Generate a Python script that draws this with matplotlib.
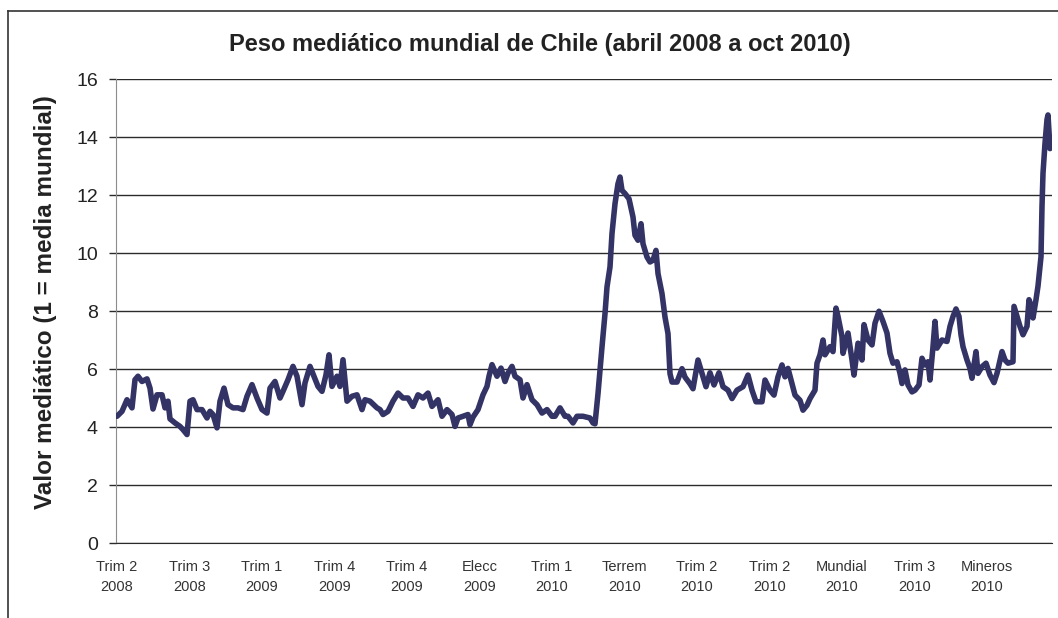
"""Peso mediático mundial de Chile, abril 2008 a oct 2010 (línea diaria)."""

import matplotlib.pyplot as plt
from matplotlib.lines import Line2D
import numpy as np

plt.rcParams["font.family"] = ["Liberation Sans", "DejaVu Sans"]

titulo = "Peso mediático mundial de Chile (abril 2008 a oct 2010)"
titulo_y = "Valor mediático (1 = media mundial)"

periodos = ["Trim 2", "Trim 3", "Trim 1", "Trim 4", "Trim 4", "Elecc", "Trim 1",
            "Terrem", "Trim 2", "Trim 2", "Mundial", "Trim 3", "Mineros"]
anios = ["2008", "2008", "2009", "2009", "2009", "2009", "2010",
         "2010", "2010", "2010", "2010", "2010", "2010"]
dias_por_etiqueta = 72.5

# días desde el inicio de la serie y valor
dias = [0, 5, 10, 15, 18, 21, 25, 30, 33, 36, 40, 45, 48, 51, 53, 58, 63, 66, 70,
        73, 76, 80, 85, 90, 93, 96, 100, 103, 107, 111, 116, 121, 126, 130, 135,
        140, 145, 150, 153, 158, 163, 166, 171, 176, 180, 185, 188, 193, 197, 201,
        205, 209, 212, 215, 220, 223, 226, 230, 235,
        240, 245, 248, 253, 260, 263, 266, 271, 276, 281, 286, 291, 296, 301, 306,
        311, 315, 321, 325, 330, 335, 338, 341, 346, 351, 353, 356, 361, 366, 370,
        372, 375, 380, 384, 388, 391, 395, 398, 403, 406, 410, 415, 420, 425, 430,
        435, 438, 443, 448, 451, 456, 460, 466, 473, 476,
        478, 481, 485, 488, 490, 493, 495, 498, 501, 503, 505, 508, 512, 516, 518,
        521, 524, 526, 530, 533, 536, 539, 541, 545, 548, 551, 553, 555, 560, 565,
        568, 573, 576,
        581, 585, 589, 593, 597, 602, 606, 611, 615, 620, 626, 631, 635, 639, 645,
        648, 653, 657, 661, 665, 668, 671, 675, 678, 683, 686, 690, 693, 698, 700,
        703, 706, 708, 713, 716, 719, 721, 725, 726, 731, 735, 737, 741, 745, 747,
        751, 755, 758, 762, 766, 770,
        773, 776, 780, 783, 785, 788, 791, 795, 798, 802, 805, 808, 811, 813, 816,
        818, 820, 825, 830, 833, 836, 839, 842, 844, 846, 850, 853, 855, 859, 861,
        865, 869, 873, 877, 880, 885, 888, 891, 896, 897, 900, 903, 906, 910, 912,
        915, 916, 919, 921, 924, 925, 926, 928, 930, 931, 933]
peso = [4.37, 4.54, 4.94, 4.66, 5.63, 5.75, 5.57, 5.66, 5.34, 4.62, 5.11, 5.11, 4.66,
        4.89, 4.28, 4.14, 4.02, 3.91, 3.74, 4.89, 4.94, 4.60, 4.60, 4.31, 4.54, 4.43,
        3.97, 4.89, 5.34, 4.77, 4.66, 4.66, 4.60, 5.06, 5.46, 5.00, 4.60, 4.48, 5.34,
        5.57, 5.00, 5.23, 5.63, 6.09, 5.75, 4.77, 5.52, 6.09, 5.75, 5.40, 5.23, 5.80,
        6.49, 5.40, 5.75, 5.40, 6.32, 4.89, 5.06,
        5.11, 4.60, 4.94, 4.89, 4.66, 4.60, 4.43, 4.54, 4.89, 5.17, 5.00, 5.00, 4.71,
        5.11, 5.00, 5.17, 4.71, 4.94, 4.37, 4.60, 4.43, 4.02, 4.31, 4.37, 4.43, 4.08,
        4.34, 4.60, 5.11, 5.40, 5.75, 6.15, 5.75, 6.03, 5.57, 5.86, 6.09, 5.75, 5.63,
        5.00, 5.46, 4.94, 4.77, 4.48, 4.60, 4.37, 4.37, 4.66, 4.37, 4.37, 4.14, 4.37,
        4.37, 4.31, 4.14,
        4.11, 5.15, 6.76, 7.91, 8.83, 9.52, 10.67, 11.70, 12.39, 12.62, 12.16, 12.05,
        11.87, 11.24, 10.61, 10.44, 11.01, 10.32, 9.86, 9.69, 9.75, 10.09, 9.29, 8.60,
        7.79, 7.22, 5.84, 5.55, 5.55, 6.01, 5.72, 5.49, 5.32,
        6.31, 5.85, 5.39, 5.87, 5.45, 5.87, 5.39, 5.27, 4.98, 5.27, 5.39, 5.79, 5.27,
        4.87, 4.87, 5.62, 5.27, 5.10, 5.73, 6.14, 5.73, 6.02, 5.50, 5.10, 4.92, 4.58,
        4.75, 4.98, 5.27, 6.20, 6.49, 7.00, 6.49, 6.77, 6.60, 8.10, 7.81, 7.12, 6.54,
        7.24, 6.31, 5.79, 6.89, 6.31, 7.53, 7.00, 6.83, 7.58, 7.99, 7.64, 7.24,
        6.54, 6.20, 6.25, 5.85, 5.50, 5.97, 5.45, 5.21, 5.27, 5.45, 6.37, 6.14, 6.25,
        5.62, 6.77, 7.64, 6.72, 7.00, 6.95, 7.47, 7.81, 8.07, 7.81, 7.18, 6.77, 6.31,
        6.02, 5.68, 6.60, 5.85, 6.08, 6.20, 5.79, 5.53, 5.85, 6.60, 6.31, 6.20, 6.25,
        8.16, 7.81, 7.47, 7.18, 7.47, 8.39, 8.10, 7.76, 8.39, 8.86, 9.87, 11.60, 12.75,
        13.78, 14.60, 14.76, 13.60]

W, H = 1058, 618
fig = plt.figure(figsize=(W / 100, H / 100), dpi=100)
ax = fig.add_axes([116 / W, 75 / H, 936 / W, 464 / H])

ax.plot(dias, peso, color="#333366", lw=4.0, solid_joinstyle="round",
        solid_capstyle="round", zorder=3)

ax.set_xlim(-1, 935)
ax.set_ylim(0, 16)
ax.set_yticks(range(0, 17, 2))
ax.yaxis.grid(True, color="#2b2b2b", lw=1.0)
ax.set_axisbelow(True)

ax.set_xticks(np.arange(len(periodos)) * dias_por_etiqueta)
ax.set_xticklabels([f"{p}\n{a}" for p, a in zip(periodos, anios)],
                   fontsize=10.5, color="#333333", linespacing=1.6)
ax.tick_params(axis="x", length=0, pad=12)
ax.tick_params(axis="y", length=5, width=1, color="#2b2b2b", pad=8,
               labelsize=14, labelcolor="#222222")

for s in ("top", "right"):
    ax.spines[s].set_visible(False)
ax.spines["left"].set_color("#8c8c8c")
ax.spines["bottom"].set_color("#2b2b2b")

fig.text(540 / W, 1 - 44 / H, titulo, ha="center", va="center",
         fontsize=17, fontweight="bold", color="#222222")
fig.text(46 / W, 1 - 302 / H, titulo_y, ha="center", va="center", rotation=90,
         fontsize=17.5, fontweight="bold", color="#222222")

# marco exterior del gráfico original (recortado a derecha y abajo)
fig.add_artist(Line2D([8 / W, 8 / W], [0, 1 - 11 / H], color="#333333", lw=1.2))
fig.add_artist(Line2D([8 / W, 1], [1 - 11 / H, 1 - 11 / H], color="#333333", lw=1.2))

fig.savefig("out.png", dpi=100)
